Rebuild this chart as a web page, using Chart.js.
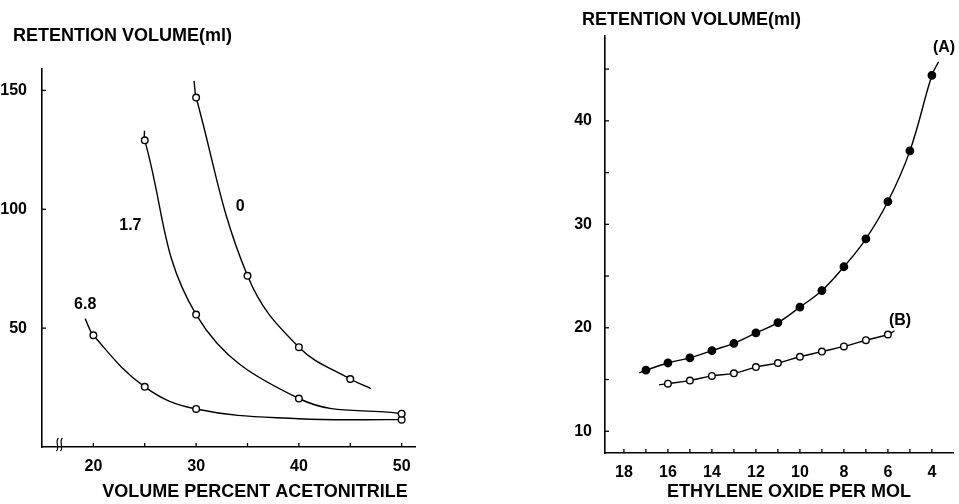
<!DOCTYPE html>
<html><head><meta charset="utf-8">
<script src="https://cdn.jsdelivr.net/npm/chart.js@4.4.1/dist/chart.umd.min.js"></script>
<style>
html,body{margin:0;padding:0;background:#fff;width:959px;height:504px;overflow:hidden;}
#wrapL{position:absolute;left:0;top:0;width:480px;height:504px;}
#wrapR{position:absolute;left:480px;top:0;width:479px;height:504px;}
</style></head><body>
<div id="wrapL"><canvas id="left"></canvas></div>
<div id="wrapR"><canvas id="right"></canvas></div>
<script>
// ---------- data: left panel (retention vs. volume % acetonitrile) ----------
const leftCurveNames = ['0', '1.7', '6.8'];
const acetonitrile0 = [30, 35, 40, 45];
const retention0 = [147, 72, 42, 28.6];
// where the drawn curve runs beyond the markers (line only, no marker)
const curve0Path = [[29.8, 154], [47, 24.6]];
const acetonitrile17 = [25, 30, 40, 50];
const retention17 = [129, 55.7, 20.4, 14];
const curve17Path = [[24.97, 133]];
const acetonitrile68 = [20, 25, 30, 50];
const retention68 = [47, 25.3, 16, 11.5];
const curve68Path = [[19.2, 54], [40, 11.9]];
const leftXTickLabels = [20, 30, 40, 50];
const leftXTickMarks = [20, 25, 30, 35, 40, 45, 50];
const leftYTickLabels = [50, 100, 150];

// ---------- data: right panel (retention vs. ethylene oxide per mol) ----------
const rightCurveNames = ['(A)', '(B)'];
const eoUnitsA = [17, 16, 15, 14, 13, 12, 11, 10, 9, 8, 7, 6, 5, 4];
const retentionA = [15.9, 16.6, 17.1, 17.8, 18.5, 19.5, 20.5, 22.0, 23.6, 25.9, 28.6, 32.2, 37.1, 44.4];
const curveAPath = [[17.3, 15.65], [3.7, 45.7]];
const eoUnitsB = [16, 15, 14, 13, 12, 11, 10, 9, 8, 7, 6];
const retentionB = [14.6, 14.9, 15.35, 15.6, 16.2, 16.6, 17.2, 17.7, 18.2, 18.8, 19.35];
const curveBPath = [[16.4, 14.5], [5.7, 19.7]];
const rightXTickLabels = [18, 16, 14, 12, 10, 8, 6, 4];
const rightXTickMarks = [18, 17, 16, 15, 14, 13, 12, 11, 10, 9, 8, 7, 6, 5, 4];
const rightYTickLabels = [10, 20, 30, 40];
const rightYTickMarks = [10, 15, 20, 25, 30, 35, 40, 45];

const FONT = '"Liberation Sans", Arial, Helvetica, sans-serif';

function lineData(xs, ys, path, desc) {
  const pts = xs.map((x, i) => ({x: x, y: ys[i]})).concat(path.map(p => ({x: p[0], y: p[1]})));
  pts.sort((a, b) => desc ? b.x - a.x : a.x - b.x);
  return pts;
}
function lineDataset(label, xs, ys, path, desc) {
  return {
    label: label + ' curve',
    data: lineData(xs, ys, path, desc),
    showLine: true,
    tension: 0.4,
    borderColor: '#000',
    borderWidth: 1.4,
    pointRadius: 0,
    pointHoverRadius: 0,
    order: 2
  };
}
function markerDataset(label, xs, ys, filled) {
  return {
    label: label,
    data: xs.map((x, i) => ({x: x, y: ys[i]})),
    showLine: false,
    pointRadius: filled ? 3.7 : 3.3,
    pointBackgroundColor: filled ? '#000' : '#fff',
    pointBorderColor: '#000',
    pointBorderWidth: 1.4,
    pointHoverRadius: 0,
    order: 1
  };
}

const deco = {
  id: 'deco',
  afterDraw(chart, args, o) {
    const ctx = chart.ctx, xs = chart.scales.x, ys = chart.scales.y, ca = chart.chartArea;
    ctx.save();
    ctx.strokeStyle = '#000';
    ctx.lineWidth = 1.3;
    (o.xMarks || []).forEach(v => {
      const p = xs.getPixelForValue(v);
      ctx.beginPath(); ctx.moveTo(p, ca.bottom); ctx.lineTo(p, ca.bottom - 4); ctx.stroke();
    });
    (o.yMarks || []).forEach(v => {
      const p = ys.getPixelForValue(v);
      ctx.beginPath(); ctx.moveTo(ca.left, p); ctx.lineTo(ca.left + 4, p); ctx.stroke();
    });
    if (o.breakAt !== undefined) {
      const bx = xs.getPixelForValue(o.breakAt), by = ca.bottom;
      ctx.lineWidth = 1.2;
      [0, 4].forEach(d => {
        ctx.beginPath();
        ctx.moveTo(bx + d + 1, by - 9);
        ctx.bezierCurveTo(bx + d - 3, by - 5, bx + d + 3, by + 0, bx + d - 1, by + 4);
        ctx.stroke();
      });
    }
    ctx.fillStyle = '#000';
    ctx.textBaseline = 'middle';
    (o.labels || []).forEach(l => {
      ctx.font = 'bold 16px ' + FONT;
      ctx.textAlign = 'center';
      ctx.fillText(l.text, xs.getPixelForValue(l.x), ys.getPixelForValue(l.y));
    });
    (o.texts || []).forEach(t => {
      ctx.font = 'bold 18px ' + FONT;
      ctx.textAlign = t.align;
      ctx.fillText(t.text, t.px, t.py);
    });
    ctx.restore();
  }
};

function axisX(min, max, labels, height, pad, reverse) {
  return {
    type: 'linear', min: min, max: max, reverse: !!reverse,
    grid: {display: false},
    border: {display: true, color: '#000', width: 1.6},
    ticks: {font: {family: FONT, size: 16, weight: 'bold'}, color: '#000', padding: pad, maxRotation: 0, autoSkip: false},
    afterBuildTicks: s => { s.ticks = labels.map(v => ({value: v})); },
    afterFit: s => { s.height = height; }
  };
}
function axisY(min, max, labels, width, pad) {
  return {
    type: 'linear', min: min, max: max,
    grid: {display: false},
    border: {display: true, color: '#000', width: 1.6},
    ticks: {font: {family: FONT, size: 16, weight: 'bold'}, color: '#000', padding: pad, autoSkip: false},
    afterBuildTicks: s => { s.ticks = labels.map(v => ({value: v})); },
    afterFit: s => { s.width = width; }
  };
}

new Chart(document.getElementById('left'), {
  type: 'scatter',
  data: {
    datasets: [
      lineDataset(leftCurveNames[0], acetonitrile0, retention0, curve0Path, false),
      lineDataset(leftCurveNames[1], acetonitrile17, retention17, curve17Path, false),
      lineDataset(leftCurveNames[2], acetonitrile68, retention68, curve68Path, false),
      markerDataset(leftCurveNames[0], acetonitrile0, retention0, false),
      markerDataset(leftCurveNames[1], acetonitrile17, retention17, false),
      markerDataset(leftCurveNames[2], acetonitrile68, retention68, false)
    ]
  },
  options: {
    responsive: true, maintainAspectRatio: false, animation: false, devicePixelRatio: 1,
    layout: {padding: {top: 69, right: 65, bottom: 0, left: 0}},
    plugins: {
      legend: {display: false}, tooltip: {enabled: false},
      deco: {
        xMarks: leftXTickMarks, yMarks: leftYTickLabels, breakAt: 16.5,
        labels: [
          {text: leftCurveNames[0], x: 34.3, y: 101},
          {text: leftCurveNames[1], x: 23.6, y: 93},
          {text: leftCurveNames[2], x: 19.2, y: 60}
        ],
        texts: [
          {text: 'RETENTION VOLUME(ml)', px: 13, py: 36, align: 'left'},
          {text: 'VOLUME PERCENT ACETONITRILE', px: 255, py: 492, align: 'center'}
        ]
      }
    },
    scales: {
      x: axisX(15, 51.3, leftXTickLabels, 57, 2, false),
      y: axisY(0, 159, leftYTickLabels, 42, 7)
    }
  },
  plugins: [deco]
});

new Chart(document.getElementById('right'), {
  type: 'scatter',
  data: {
    datasets: [
      lineDataset(rightCurveNames[0], eoUnitsA, retentionA, curveAPath, true),
      lineDataset(rightCurveNames[1], eoUnitsB, retentionB, curveBPath, true),
      markerDataset(rightCurveNames[0], eoUnitsA, retentionA, true),
      markerDataset(rightCurveNames[1], eoUnitsB, retentionB, false)
    ]
  },
  options: {
    responsive: true, maintainAspectRatio: false, animation: false, devicePixelRatio: 1,
    layout: {padding: {top: 36, right: 2, bottom: 0, left: 0}},
    plugins: {
      legend: {display: false}, tooltip: {enabled: false},
      deco: {
        xMarks: rightXTickMarks, yMarks: rightYTickMarks,
        labels: [
          {text: rightCurveNames[0], x: 3.45, y: 47.1},
          {text: rightCurveNames[1], x: 5.45, y: 20.7}
        ],
        texts: [
          {text: 'RETENTION VOLUME(ml)', px: 102, py: 20, align: 'left'},
          {text: 'ETHYLENE OXIDE PER MOL', px: 309, py: 492, align: 'center'}
        ]
      }
    },
    scales: {
      x: axisX(3, 18.86, rightXTickLabels, 51, 2, true),
      y: axisY(7.9, 48.2, rightYTickLabels, 125, 5)
    }
  },
  plugins: [deco]
});
</script>
</body></html>
